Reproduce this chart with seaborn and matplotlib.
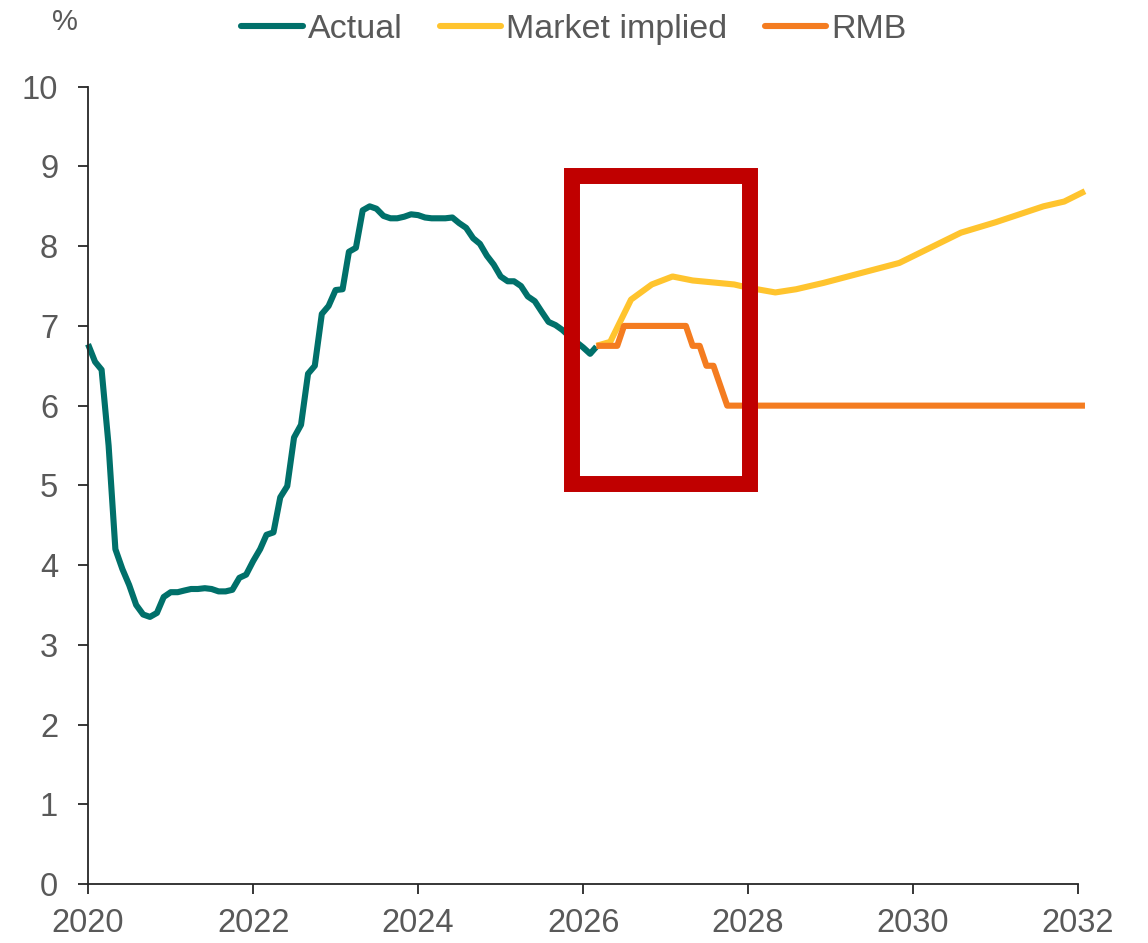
import matplotlib
matplotlib.use("Agg")
import matplotlib.pyplot as plt
import matplotlib.dates as mdates
from matplotlib.patches import Rectangle
import pandas as pd
import seaborn as sns

sns.set_style("ticks")
plt.rcParams['font.family'] = ['Liberation Sans', 'DejaVu Sans']

# Actual: monthly, Jan 2020 .. Mar 2026
actual_start = "2020-01-01"
actual_values = [
    6.77, 6.55, 6.45, 5.50, 4.20, 3.95, 3.75, 3.50, 3.38, 3.35, 3.40, 3.60,
    3.66, 3.66, 3.68, 3.70, 3.70, 3.71, 3.70, 3.67, 3.67, 3.69, 3.84, 3.88,
    4.05, 4.20, 4.38, 4.41, 4.85, 4.99, 5.60, 5.76, 6.40, 6.50, 7.15, 7.25,
    7.45, 7.46, 7.93, 7.98, 8.45, 8.50, 8.47, 8.38, 8.35, 8.35, 8.37, 8.40,
    8.39, 8.36, 8.35, 8.35, 8.35, 8.36, 8.29, 8.23, 8.10, 8.03, 7.88, 7.77,
    7.62, 7.56, 7.56, 7.50, 7.37, 7.31, 7.18, 7.05, 7.01, 6.95, 6.87, 6.80,
    6.73, 6.65, 6.74,
]

market_dates = ["2026-03-01", "2026-05-01", "2026-08-01", "2026-11-01", "2027-02-01",
                "2027-05-01", "2027-11-01", "2028-01-01", "2028-05-01", "2028-08-01",
                "2028-12-01", "2029-11-01", "2030-08-01", "2031-01-01", "2031-08-01",
                "2031-11-01", "2032-02-01"]
market_values = [6.75, 6.80, 7.33, 7.52, 7.62, 7.57, 7.52, 7.48, 7.42, 7.46,
                 7.54, 7.79, 8.17, 8.30, 8.50, 8.56, 8.69]

rmb_dates = ["2026-03-01", "2026-06-01", "2026-07-01", "2027-04-01", "2027-05-01",
             "2027-06-01", "2027-07-01", "2027-08-01", "2027-10-01", "2032-02-01"]
rmb_values = [6.75, 6.75, 7.00, 7.00, 6.75, 6.75, 6.50, 6.50, 6.00, 6.00]

series_order = ["Actual", "Market implied", "RMB"]
colors = {"Actual": "#00706A", "Market implied": "#FFC42E", "RMB": "#F47C20"}

# highlight box (x range in dates, y range in %)
box_x = ("2025-11-14", "2028-01-12")
box_y = (5.02, 8.88)

df = pd.concat([
    pd.DataFrame({"date": pd.date_range(actual_start, periods=len(actual_values), freq="MS"),
                  "value": actual_values, "series": "Actual"}),
    pd.DataFrame({"date": pd.to_datetime(market_dates), "value": market_values,
                  "series": "Market implied"}),
    pd.DataFrame({"date": pd.to_datetime(rmb_dates), "value": rmb_values, "series": "RMB"}),
])

fig = plt.figure(figsize=(11.48, 9.43), dpi=100)
ax = fig.add_axes([0.0767, 0.0626, 0.8623, 0.8454])

sns.lineplot(data=df, x="date", y="value", hue="series", hue_order=series_order,
             palette=colors, linewidth=4.4, ax=ax, legend=False)
for ln in ax.get_lines():
    ln.set_clip_on(False)
    ln.set_solid_capstyle("butt")

x0 = mdates.date2num(pd.Timestamp(box_x[0]))
x1 = mdates.date2num(pd.Timestamp(box_x[1]))
ax.add_patch(Rectangle((x0, box_y[0]), x1 - x0, box_y[1] - box_y[0], fill=False,
                       edgecolor="#C00000", linewidth=11.5, joinstyle="miter",
                       zorder=5, clip_on=False))

ax.set_xlim(pd.Timestamp("2020-01-01"), pd.Timestamp("2032-01-01"))
ax.set_ylim(0, 10)
ax.set_yticks(range(0, 11))
ax.xaxis.set_major_locator(mdates.YearLocator(2))
ax.xaxis.set_major_formatter(mdates.DateFormatter("%Y"))
ax.set_xlabel("")
ax.set_ylabel("")

sns.despine(ax=ax)
for side in ["left", "bottom"]:
    ax.spines[side].set_color("#262626")
    ax.spines[side].set_linewidth(1.3)
ax.tick_params(axis="both", direction="out", length=7.5, width=1.3, color="#262626",
               labelsize=23.5, labelcolor="#595959")
ax.tick_params(axis="y", pad=14)
ax.tick_params(axis="x", pad=10)

handles = [plt.Line2D([], [], color=colors[s], linewidth=4.4) for s in series_order]
fig.legend(handles, series_order, loc="center", bbox_to_anchor=(0.5, 0.969), ncol=3,
           frameon=False, fontsize=24.5, labelcolor="#595959", handlelength=1.8,
           handletextpad=0.15, columnspacing=1.1)
fig.text(0.057, 0.977, "%", fontsize=21, color="#595959", ha="center", va="center")

fig.savefig("out.png", dpi=100)
